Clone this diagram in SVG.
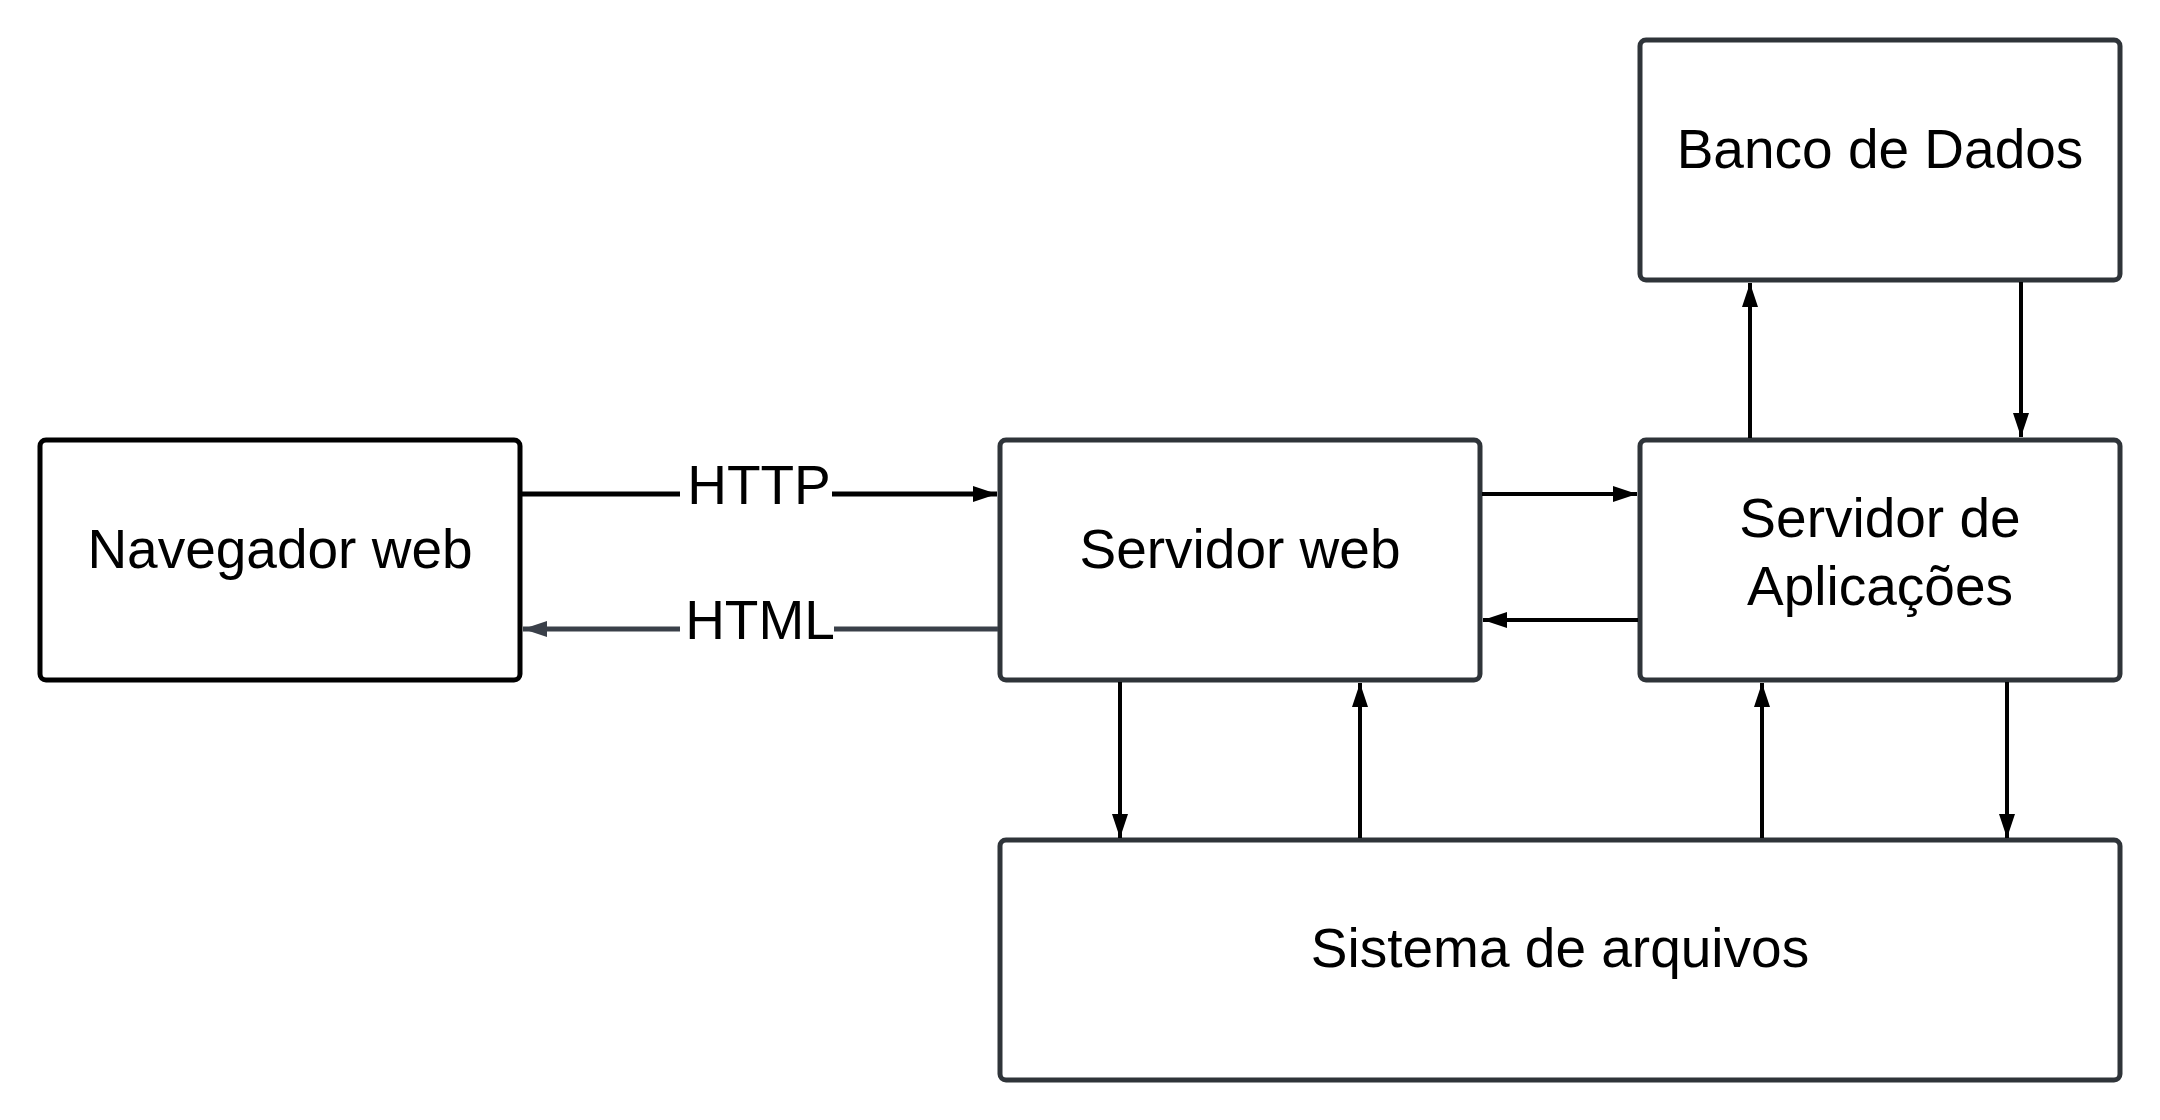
<svg xmlns="http://www.w3.org/2000/svg" width="2160" height="1120" viewBox="0 0 2160 1120">
  <style>
    .box { fill: #ffffff; stroke: #2f3439; stroke-width: 5; }
    .box.dark { stroke: #000000; }
    .lbl { font-family: "Liberation Sans", Arial, sans-serif; font-size: 55px; fill: #000000; text-anchor: middle; }
    .conn { fill: none; stroke: #000000; stroke-width: 4; }
    .conn.thick { stroke-width: 5; }
    .conn.gray { stroke: #3a4049; }
  </style>
  <defs>
    <marker id="arrow" viewBox="0 0 24 16" refX="24" refY="8" markerWidth="24" markerHeight="16" markerUnits="userSpaceOnUse" orient="auto">
      <path d="M0,0 L24,8 L0,16 Z" fill="#000000"/>
    </marker>
    <marker id="arrowGray" viewBox="0 0 24 16" refX="24" refY="8" markerWidth="24" markerHeight="16" markerUnits="userSpaceOnUse" orient="auto">
      <path d="M0,0 L24,8 L0,16 Z" fill="#3a4049"/>
    </marker>
  </defs>
  <rect width="2160" height="1120" fill="#ffffff"/>

  <g id="navegador">
    <rect class="box dark" x="40" y="440" width="480" height="240" rx="6"/>
    <text class="lbl" x="280" y="568">Navegador web</text>
  </g>
  <g id="servidor-web">
    <rect class="box" x="1000" y="440" width="480" height="240" rx="6"/>
    <text class="lbl" x="1240" y="568">Servidor web</text>
  </g>
  <g id="servidor-aplicacoes">
    <rect class="box" x="1640" y="440" width="480" height="240" rx="6"/>
    <text class="lbl" x="1880" y="537">Servidor de</text>
    <text class="lbl" x="1880" y="605">Aplicações</text>
  </g>
  <g id="banco-dados">
    <rect class="box" x="1640" y="40" width="480" height="240" rx="6"/>
    <text class="lbl" x="1880" y="168">Banco de Dados</text>
  </g>
  <g id="sistema-arquivos">
    <rect class="box" x="1000" y="840" width="1120" height="240" rx="6"/>
    <text class="lbl" x="1560" y="967">Sistema de arquivos</text>
  </g>

  <g id="connectors">
    <line class="conn thick" x1="522" y1="494" x2="997" y2="494" marker-end="url(#arrow)"/>
    <rect x="680" y="464" width="152" height="46" fill="#ffffff"/>
    <text class="lbl" x="759" y="504">HTTP</text>

    <line class="conn thick gray" x1="998" y1="629" x2="523" y2="629" marker-end="url(#arrowGray)"/>
    <rect x="680" y="598" width="154" height="46" fill="#ffffff"/>
    <text class="lbl" x="760" y="639">HTML</text>

    <line class="conn" x1="1482" y1="494" x2="1637" y2="494" marker-end="url(#arrow)"/>
    <line class="conn" x1="1638" y1="620" x2="1483" y2="620" marker-end="url(#arrow)"/>
    <line class="conn" x1="1750" y1="438" x2="1750" y2="283" marker-end="url(#arrow)"/>
    <line class="conn" x1="2021" y1="282" x2="2021" y2="437" marker-end="url(#arrow)"/>
    <line class="conn" x1="1120" y1="682" x2="1120" y2="838" marker-end="url(#arrow)"/>
    <line class="conn" x1="1360" y1="838" x2="1360" y2="683" marker-end="url(#arrow)"/>
    <line class="conn" x1="1762" y1="838" x2="1762" y2="683" marker-end="url(#arrow)"/>
    <line class="conn" x1="2007" y1="682" x2="2007" y2="838" marker-end="url(#arrow)"/>
  </g>
</svg>
